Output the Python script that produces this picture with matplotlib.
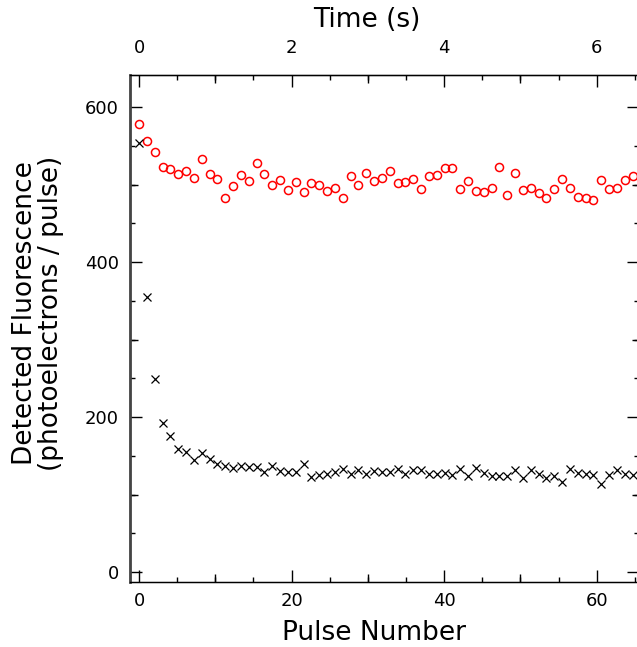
import numpy as np
import matplotlib
matplotlib.use('Agg')
import matplotlib.pyplot as plt
from matplotlib.ticker import MultipleLocator, FixedLocator, NullFormatter

# pulse spacing (points sit slightly wider than 1 per unit)
time_s = np.arange(64) * 0.1027
pulse = time_s * 10

# red circles (upper series)
fluor_red = [578, 556, 542, 522, 520, 514, 517, 509, 533, 514,
             507, 482, 498, 512, 504, 528, 514, 500, 506, 493,
             503, 490, 502, 499, 491, 496, 483, 511, 499, 515,
             505, 508, 517, 502, 503, 507, 494, 511, 512, 521,
             521, 494, 504, 491, 490, 495, 522, 487, 515, 493,
             496, 489, 482, 494, 507, 496, 484, 482, 480, 506,
             494, 496, 506, 511]

# black crosses (lower series)
fluor_black = [553, 355, 249, 192, 176, 159, 155, 145, 154, 146,
               140, 137, 134, 137, 136, 135, 129, 137, 130, 129,
               129, 140, 123, 125, 126, 129, 133, 127, 131, 126,
               130, 129, 129, 133, 127, 132, 131, 127, 127, 128,
               125, 133, 124, 134, 128, 124, 124, 124, 132, 121,
               132, 127, 121, 124, 116, 133, 128, 127, 125, 114,
               125, 132, 127, 125]

time_ticks = [0, 2, 4, 6]

fig = plt.figure(figsize=(6.37, 6.47), dpi=100)
ax = fig.add_axes([130 / 637, 65 / 647, 509.5 / 637, 507 / 647])

ax.plot(pulse, fluor_red, linestyle='none', marker='o', ms=5.8,
        mfc='none', mec='red', mew=1.1)
ax.plot(pulse, fluor_black, linestyle='none', marker='x', ms=5.2,
        color='black', mew=0.9)

ax.set_xlim(-1.18, 65.6)
ax.set_ylim(-12.9, 641.3)

ax.xaxis.set_major_locator(MultipleLocator(20))
ax.xaxis.set_minor_locator(MultipleLocator(5))
ax.yaxis.set_major_locator(MultipleLocator(200))
ax.yaxis.set_minor_locator(MultipleLocator(50))
ax.tick_params(which='both', direction='in', top=True, right=True,
               labeltop=False, width=1, labelsize=13)
ax.tick_params(which='major', length=8.6)
ax.tick_params(which='minor', length=3.6)
ax.tick_params(axis='x', pad=7)
ax.tick_params(axis='y', pad=8)

# medium ticks every 10 pulses / 100 photoelectrons
for side in ('left', 'right'):
    sec = ax.secondary_yaxis(side)
    sec.yaxis.set_major_locator(FixedLocator([100, 300, 500]))
    sec.yaxis.set_major_formatter(NullFormatter())
    sec.tick_params(direction='in', length=5.8, width=1)
for side in ('bottom', 'top'):
    sec = ax.secondary_xaxis(side)
    sec.xaxis.set_major_locator(FixedLocator([10, 30, 50]))
    sec.xaxis.set_major_formatter(NullFormatter())
    sec.tick_params(direction='in', length=5.8, width=1)

# time axis on top
tax = ax.secondary_xaxis('top', functions=(lambda x: x / 10, lambda t: t * 10))
tax.xaxis.set_major_locator(FixedLocator(time_ticks))
tax.tick_params(length=0, labelsize=13, pad=13)
fig.text(367 / 637, 1 - 20 / 647, 'Time (s)', fontsize=19,
         ha='center', va='center')

for s in ax.spines.values():
    s.set_linewidth(1.0)
ax.spines['left'].set_linewidth(2.0)
ax.spines['left'].set_color('#444444')

ax.set_xlabel('Pulse Number', fontsize=19)
ax.xaxis.set_label_coords(0.479, -0.075)
ax.set_ylabel('Detected Fluorescence\n(photoelectrons / pulse)', fontsize=19,
              linespacing=1.0)
ax.yaxis.set_label_coords(-0.13, 0.53)

fig.savefig('out.png', dpi=100)
